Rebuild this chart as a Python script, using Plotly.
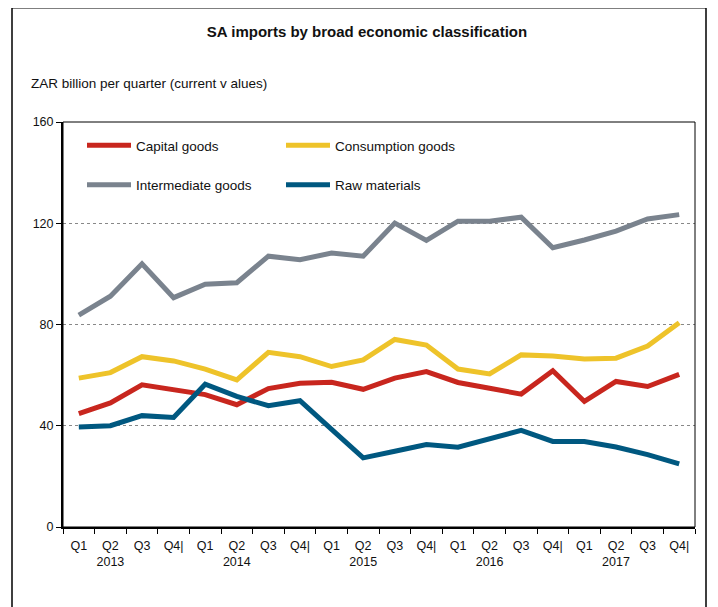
import plotly.graph_objects as go

# quarters 2013Q1 .. 2017Q4
years = ["2013", "2014", "2015", "2016", "2017"]
quarters = ["Q1", "Q2", "Q3", "Q4"]
periods = [y + q for y in years for q in quarters]
tick_labels = ["Q1", "Q2<br>2013", "Q3", "Q4|",
               "Q1", "Q2<br>2014", "Q3", "Q4|",
               "Q1", "Q2<br>2015", "Q3", "Q4|",
               "Q1", "Q2<br>2016", "Q3", "Q4|",
               "Q1", "Q2<br>2017", "Q3", "Q4|"]

# ZAR billion per quarter
capital = [44.8, 49.0, 56.2, 54.2, 52.3, 48.3, 54.7, 56.8, 57.2, 54.4,
           58.8, 61.4, 57.1, 54.8, 52.5, 61.7, 49.6, 57.5, 55.5, 60.3]
consumption = [58.8, 61.0, 67.3, 65.6, 62.4, 58.1, 69.0, 67.3, 63.4, 66.0,
               74.1, 71.9, 62.4, 60.5, 68.0, 67.6, 66.4, 66.7, 71.5, 80.7]
intermediate = [83.7, 91.2, 104.0, 90.6, 95.9, 96.5, 107.0, 105.6, 108.2, 107.0,
                120.1, 113.2, 120.8, 120.8, 122.4, 110.3, 113.4, 116.9, 121.7, 123.4]
raw = [39.5, 40.0, 44.0, 43.3, 56.4, 51.6, 47.9, 49.9, 38.6, 27.3,
       29.9, 32.6, 31.5, 34.8, 38.2, 33.8, 33.8, 31.6, 28.6, 24.9]

W, H = 718, 607
OFF = 8  # page body margin pushes the figure 8px right/down
ML, MT = 63 - OFF, 122 - OFF
MR, MB = W - (695 - OFF), H - (527.5 - OFF)
PW, PH = W - ML - MR, H - MT - MB


# screen pixel -> paper coordinate
def px_x(p):
    return (p - OFF - ML) / PW


def px_y(p):
    return 1 - (p - OFF - MT) / PH


FONT = "Liberation Sans, Arial, sans-serif"

fig = go.Figure()
series = [
    ("Capital goods", capital, "#C8261E", "legend"),
    ("Consumption goods", consumption, "#EEC32A", "legend2"),
    ("Intermediate goods", intermediate, "#7A838E", "legend"),
    ("Raw materials", raw, "#005880", "legend2"),
]
for name, vals, col, leg in series:
    fig.add_trace(go.Scatter(x=periods, y=vals, mode="lines", name=name,
                             legend=leg, legendgroup=name,
                             line=dict(color=col, width=5)))

leg_style = dict(orientation="v", xanchor="left", yanchor="top",
                 y=px_y(130), tracegroupgap=19, itemwidth=44,
                 bgcolor="rgba(0,0,0,0)",
                 font=dict(family=FONT, size=13.5, color="#111"))

fig.update_layout(
    width=W, height=H,
    margin=dict(l=ML, r=MR, t=MT, b=MB, autoexpand=False),
    paper_bgcolor="white", plot_bgcolor="white",
    font=dict(family=FONT, size=12.5, color="#111"),
    title=dict(text="<b>SA imports by broad economic classification</b>",
               x=0.5, xanchor="center", y=1 - (32 - OFF) / H, yanchor="middle",
               font=dict(family=FONT, size=15, color="#111")),
    legend=dict(x=px_x(82), **leg_style),
    legend2=dict(x=px_x(281), **leg_style),
    xaxis=dict(type="category", range=[-0.5, 19.5], automargin=False,
               tickmode="array", tickvals=periods, ticktext=tick_labels,
               tickson="boundaries", ticks="outside", ticklen=5,
               tickcolor="black", showgrid=False, tickangle=0,
               ticklabelstandoff=6,
               showline=True, linecolor="black", linewidth=2,
               tickfont=dict(size=12.5)),
    yaxis=dict(range=[0, 160], tickvals=[0, 40, 80, 120, 160], automargin=False,
               ticks="outside", ticklen=5, tickcolor="black",
               showline=True, linecolor="black", linewidth=2,
               showgrid=True, gridcolor="#888", griddash="dot", gridwidth=1,
               zeroline=False, tickfont=dict(size=12.5)),
    annotations=[dict(text="ZAR billion per quarter (current v alues)",
                      xref="paper", yref="paper", x=px_x(29), y=px_y(83),
                      xanchor="left", yanchor="middle", showarrow=False,
                      font=dict(family=FONT, size=13.5, color="#111"))],
    shapes=[
        # plot frame
        dict(type="rect", xref="paper", yref="paper", x0=0, x1=1, y0=0, y1=1,
             line=dict(color="black", width=1)),
        # outer border
        dict(type="rect", xref="paper", yref="paper",
             x0=px_x(12), x1=px_x(706), y0=px_y(630), y1=px_y(7.5),
             line=dict(color="black", width=1.5)),
    ],
)

fig.write_html("out.html")
